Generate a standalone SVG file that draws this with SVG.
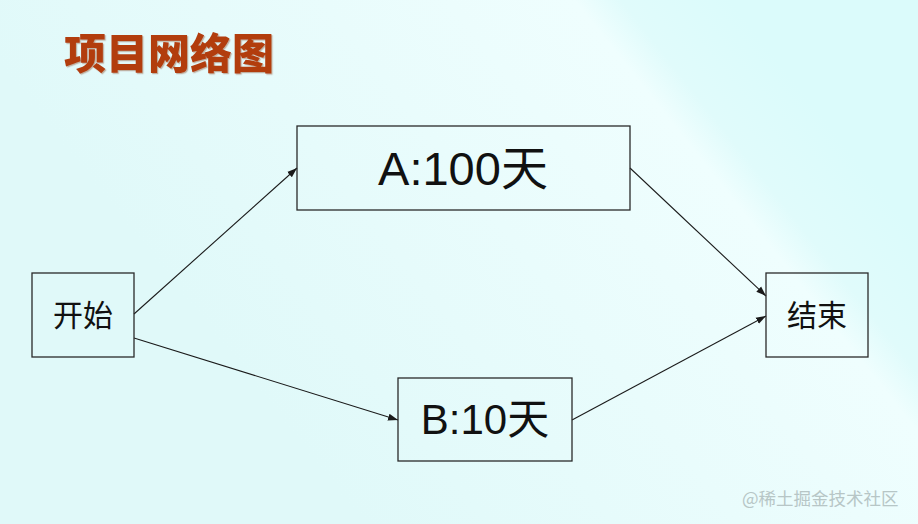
<svg xmlns="http://www.w3.org/2000/svg" width="918" height="524" viewBox="0 0 918 524">
<defs>
<linearGradient id="bg" gradientUnits="userSpaceOnUse" x1="359" y1="518" x2="839" y2="136">
<stop offset="0" stop-color="#e0f9f9"/>
<stop offset="0.8" stop-color="#effefe"/>
<stop offset="0.86" stop-color="#e0fbfb"/>
<stop offset="1" stop-color="#dbfbfb"/>
</linearGradient>
<marker id="arr" viewBox="0 0 10 10" refX="10" refY="5" markerWidth="10" markerHeight="10" markerUnits="userSpaceOnUse" orient="auto">
<path d="M0,1.5 L10,5 L0,8.5 z" fill="#1a1a1a"/>
</marker>
<filter id="sh" x="-5%" y="-10%" width="115%" height="130%">
<feDropShadow dx="1.2" dy="1.2" stdDeviation="0.5" flood-color="#7a2a10" flood-opacity="0.35"/>
</filter>
</defs>
<style>
.box{fill:none;stroke:#2a2a2a;stroke-width:1.3}
.lbl{font-family:"Liberation Sans","Noto Sans CJK SC",sans-serif;fill:#111;text-anchor:middle}
.cn{font-family:"Noto Sans CJK SC",sans-serif;fill:#111;text-anchor:middle}
.edge{stroke:#1a1a1a;stroke-width:1.1;fill:none;marker-end:url(#arr)}
</style>
<rect x="0" y="0" width="918" height="524" fill="url(#bg)"/>
<text x="64" y="69" font-family="Noto Sans CJK SC, sans-serif" font-weight="900" font-size="42" fill="#b23c10" filter="url(#sh)" textLength="210" lengthAdjust="spacingAndGlyphs">项目网络图</text>
<g id="connectors">
<line class="edge" x1="134" y1="314" x2="297" y2="168"/>
<line class="edge" x1="134" y1="338" x2="398" y2="420"/>
<line class="edge" x1="630" y1="168" x2="766" y2="296"/>
<line class="edge" x1="572" y1="420" x2="766" y2="316"/>
</g>
<g id="start">
<rect class="box" x="32" y="273" width="102" height="84"/>
<text class="cn" x="83" y="326" font-size="30">开始</text>
</g>
<g id="A">
<rect class="box" x="297" y="126" width="333" height="84"/>
<text class="lbl" x="463" y="185" font-size="47">A:100天</text>
</g>
<g id="B">
<rect class="box" x="398" y="378" width="174" height="83"/>
<text class="lbl" x="485" y="434" font-size="42">B:10天</text>
</g>
<g id="end">
<rect class="box" x="766" y="273" width="102" height="84"/>
<text class="cn" x="817" y="326" font-size="30">结束</text>
</g>
<text x="742" y="505" font-family="Noto Sans CJK SC, sans-serif" font-size="17.5" fill="#b7c6c6">@稀土掘金技术社区</text>
</svg>
